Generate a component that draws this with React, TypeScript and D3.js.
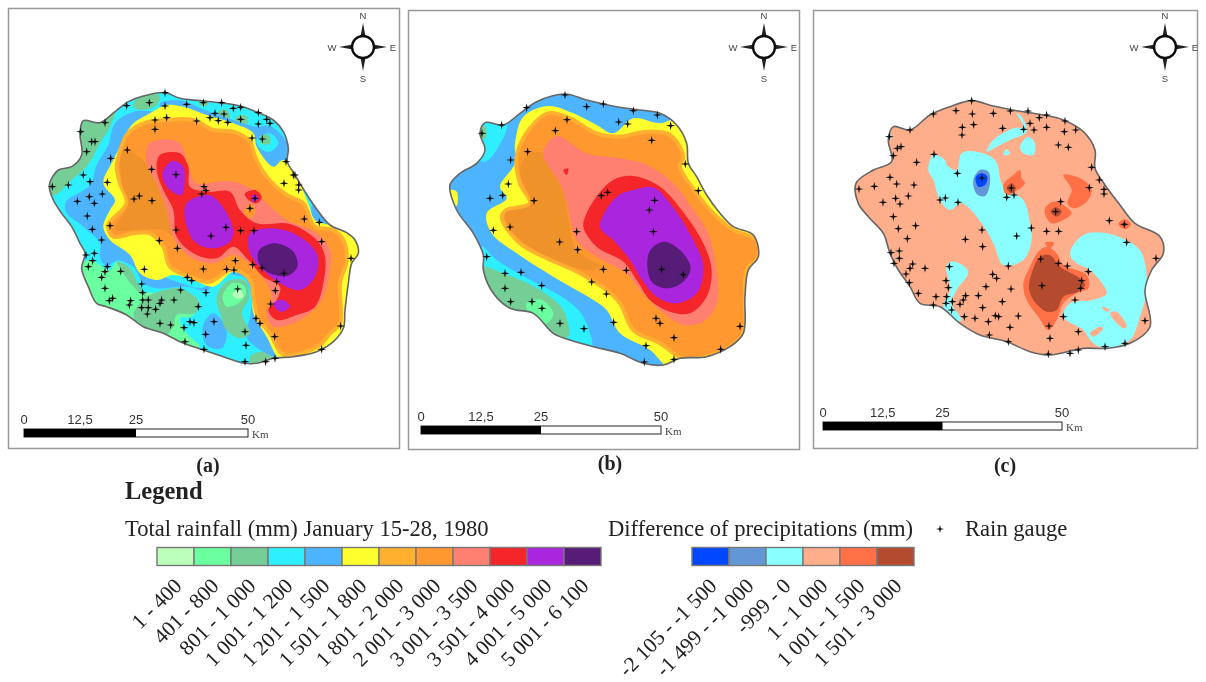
import React from 'react'
import * as d3 from 'd3'

type Pt = [number, number]

const rainLabels = ['1 - 400', '401 - 800', '801 - 1 000', '1 001 - 1 200', '1 201 - 1 500', '1 501 - 1 800', '1 801 - 2 000', '2 001 - 3 000', '3 001 - 3 500', '3 501 - 4 000', '4 001 - 5 000', '5 001 - 6 100']
const rainColors = ['#BBFFBB', '#6BFF9F', '#75CE95', '#2EEFFF', '#4DB4FF', '#FFFF2E', '#FFB02E', '#FF982E', '#FF7F70', '#F5252B', '#A926DE', '#561B78']
const diffLabels = ['-2 105 - -1 500', '-1 499 - -1 000', '-999 - 0', '1 - 1 000', '1 001 - 1 500', '1 501 - 3 000']
const diffColors = ['#0046FF', '#6496D7', '#8BFFFF', '#FFAE8B', '#FF7047', '#B54B2E']
const scaleTicks = [0, 12.5, 25, 50]

// island outlines, traced in map units
const outlineA: Pt[] = [[495,68],[540,85],[600,92],[660,98],[720,108],[775,128],[820,150],[850,185],[865,235],[862,275],[885,315],[915,365],[945,410],[990,465],[1040,488],[1065,510],[1075,550],[1055,580],[1045,640],[1035,720],[1030,775],[1000,815],[950,845],[880,860],[820,865],[770,880],[735,880],[670,860],[610,840],[540,815],[490,790],[430,770],[380,735],[320,710],[290,700],[265,650],[245,595],[255,550],[240,520],[215,470],[185,430],[160,390],[148,345],[175,300],[215,290],[245,255],[240,190],[250,152],[300,158],[345,125],[385,95],[430,78]]
const outlineB: Pt[] = [[435,72],[500,90],[590,110],[660,120],[720,130],[770,165],[800,220],[805,280],[830,320],[860,375],[900,430],[940,470],[1000,495],[1015,560],[985,600],[975,680],[970,790],[930,830],[860,860],[780,865],[730,885],[670,880],[600,850],[520,830],[450,810],[400,790],[340,730],[270,715],[220,670],[190,600],[190,555],[160,490],[110,420],[90,345],[120,310],[170,280],[195,240],[180,190],[195,158],[250,165],[300,130],[350,95]]
const outlineC: Pt[] = [[425,32],[490,48],[560,62],[640,75],[700,90],[760,125],[795,180],[795,235],[825,285],[870,345],[915,400],[990,440],[1000,490],[965,540],[945,600],[960,710],[900,760],[830,775],[760,775],[660,795],[600,785],[530,755],[450,735],[390,700],[330,650],[270,640],[240,590],[205,540],[180,490],[160,430],[115,380],[85,340],[78,280],[130,240],[185,215],[175,150],[190,110],[240,120],[300,75],[360,50]]

// rainfall classes of map (a), painted in this order
const aZones: [number, Pt[]][] = [
  [2, [[240,150],[300,155],[345,125],[330,170],[300,220],[260,290],[215,330],[165,375],[140,370],[135,335],[175,295],[215,285],[245,255],[235,190]]],
  [2, [[400,100],[440,70],[480,78],[470,105],[430,120],[400,112]]],
  [2, [[600,90],[625,92],[620,108],[600,105]]],
  [2, [[655,125],[680,120],[690,145],[665,150]]],
  [2, [[705,145],[735,135],[745,155],[720,168]]],
  [1, [[235,590],[270,570],[330,600],[350,575],[390,600],[420,660],[480,670],[540,680],[590,710],[575,740],[540,745],[560,790],[600,830],[540,825],[480,800],[430,780],[330,720],[280,710]]],
  [2, [[440,680],[540,655],[600,700],[585,730],[530,735],[520,770],[490,800],[430,780],[400,735],[420,700]]],
  [2, [[350,575],[385,590],[420,650],[440,680],[410,660],[370,610]]],
  [2, [[750,860],[800,845],[830,870],[760,890]]],
  [4, [[195,410],[200,392],[270,345],[290,285],[325,225],[345,160],[400,125],[470,122],[500,108],[540,118],[510,180],[400,300],[400,500],[480,610],[560,645],[600,655],[640,640],[620,662],[560,650],[470,655],[430,640],[400,590],[350,572],[320,590],[300,560],[300,520],[250,470],[200,430]]],
  [4, [[480,100],[545,92],[610,118],[700,150],[770,170],[810,168],[865,225],[865,290],[875,355],[830,370],[800,300],[765,245],[700,185],[600,150],[500,130]]],
  [3, [[770,210],[810,190],[835,220],[810,245],[780,235]]],
  [2, [[780,200],[805,195],[810,220],[785,222]]],
  [4, [[740,610],[770,640],[770,725],[835,860],[790,845],[740,800],[750,740],[755,680],[735,625],[690,612]]],
  [4, [[608,770],[640,730],[680,780],[665,835],[620,825]]],
  [4, [[940,400],[995,465],[950,475],[935,440]]],
  [4, [[460,510],[480,498],[490,512],[475,525]]],
  [2, [[650,680],[680,635],[735,632],[748,680],[725,730],[750,790],[720,805],[680,780],[660,730]]],
  [1, [[668,680],[695,640],[730,645],[738,670],[715,700],[680,710]]],
  [0, [[698,672],[722,660],[730,680],[708,686]]],
]
const aYellow: Pt[] = [[395,165],[450,130],[500,105],[550,110],[620,135],[700,160],[760,190],[770,230],[820,290],[850,270],[890,320],[925,400],[945,450],[990,465],[1040,480],[1090,520],[1090,560],[1060,600],[1050,720],[1040,790],[1000,830],[950,870],[880,880],[840,870],[800,800],[760,730],[755,660],[740,625],[700,605],[640,650],[580,630],[520,615],[470,630],[420,610],[390,555],[330,510],[310,470],[330,420],[345,390],[310,340],[340,270],[370,210]]
const aOrange: Pt[] = [[380,195],[430,160],[500,150],[580,150],[640,180],[700,185],[750,215],[765,260],[800,320],[860,375],[910,400],[945,470],[1000,480],[1030,510],[1040,570],[1020,640],[1020,760],[990,790],[960,825],[880,855],[845,850],[810,790],[775,745],[760,680],[755,640],[730,610],[690,600],[630,635],[570,620],[510,590],[490,530],[450,490],[400,490],[340,500],[325,465],[380,400],[360,340],[350,290],[365,230]]
const aOrangeDark: Pt[] = [[345,480],[385,400],[365,340],[370,240],[440,280],[470,340],[500,420],[520,500],[490,480],[400,480]]
const aSalmon: Pt[] = [[445,225],[490,208],[540,220],[560,270],[590,340],[650,335],[700,335],[760,360],[800,400],[860,450],[950,490],[990,540],[990,600],[970,680],[940,720],[880,760],[820,770],[800,730],[815,680],[800,640],[760,590],[700,555],[640,580],[570,560],[520,500],[500,420],[470,340],[440,280]]
const aRedMain: Pt[] = [[480,255],[540,250],[565,290],[570,350],[620,365],[690,365],[720,420],[770,460],[870,462],[950,510],[975,560],[970,640],[945,710],[890,735],[830,750],[805,720],[830,690],[840,650],[790,620],[745,570],[700,530],[650,565],[590,555],[530,500],[520,420],[490,360],[470,300]]
const aRedSpot: Pt[] = [[735,370],[765,360],[785,380],[770,400],[740,385]]
const aOrangeSpot: Pt[] = [[738,412],[752,402],[768,420],[750,445],[730,425]]
const aPurple: Pt[][] = [
  [[490,300],[520,272],[550,290],[555,330],[545,375],[510,360],[490,330]],
  [[560,400],[625,375],[660,400],[700,480],[690,515],[640,535],[590,520],[560,470]],
  [[750,490],[810,475],[880,490],[950,550],[945,620],[900,660],[840,640],[790,600],[750,550]],
  [[820,700],[850,690],[870,710],[840,725]],
  [[755,378],[768,375],[775,388],[760,395]],
]
const aDark: Pt[] = [[778,540],[825,520],[880,545],[892,590],[860,618],[800,605],[775,575]]
const aGauges: Pt[] = [[495,68],[380,107],[448,98],[495,108],[560,103],[610,98],[665,98],[700,115],[722,112],[775,128],[500,143],[465,150],[465,178],[590,153],[630,143],[645,130],[655,152],[672,132],[683,157],[722,148],[775,162],[800,148],[810,160],[242,185],[315,158],[275,215],[285,215],[260,245],[382,240],[332,265],[756,204],[787,207],[858,275],[880,315],[885,315],[455,298],[528,314],[250,315],[322,337],[205,345],[157,350],[270,335],[852,340],[896,345],[896,360],[612,350],[618,362],[605,372],[765,385],[268,380],[307,372],[232,394],[283,400],[402,387],[418,378],[456,392],[750,415],[262,438],[913,447],[958,457],[330,467],[277,478],[528,480],[678,472],[722,482],[762,482],[633,498],[305,510],[478,512],[965,515],[532,535],[258,555],[283,550],[278,572],[265,590],[322,590],[315,605],[362,604],[305,622],[433,598],[610,597],[680,598],[702,600],[706,572],[758,584],[786,594],[852,610],[1053,565],[425,642],[562,622],[575,632],[830,635],[826,662],[713,657],[315,655],[428,668],[542,660],[618,668],[338,685],[328,692],[392,692],[388,705],[428,690],[445,690],[485,690],[522,690],[425,713],[445,713],[467,718],[480,700],[442,732],[595,710],[812,702],[768,745],[780,760],[480,760],[512,765],[552,773],[570,755],[582,758],[642,755],[735,785],[617,793],[824,800],[555,815],[738,826],[612,838],[1022,768],[965,838],[735,875],[797,875],[825,865]]

// map (b)
const bZones: [number, Pt[]][] = [
  [3, [[175,150],[260,160],[230,240],[195,275],[165,260],[175,200]]],
  [3, [[185,530],[230,570],[350,640],[440,690],[490,740],[515,835],[450,815],[400,800],[340,740],[270,725],[215,675],[180,600]]],
  [2, [[178,590],[250,610],[360,660],[430,720],[445,800],[400,800],[340,740],[270,725],[215,680]]],
  [1, [[320,700],[365,690],[400,730],[380,760],[330,735]]],
  [2, [[176,170],[196,168],[196,205],[176,205]]],
  [5, [[85,360],[110,365],[108,410],[85,400]]],
]
const bYellow: Pt[] = [[285,220],[310,140],[385,108],[460,130],[530,165],[580,190],[640,145],[720,160],[770,150],[830,300],[880,390],[1020,510],[1020,600],[1000,800],[800,880],[750,895],[690,840],[600,790],[560,720],[520,690],[400,620],[290,550],[215,490],[200,430],[260,385],[240,350],[285,280]]
const bOrange: Pt[] = [[330,175],[385,130],[450,145],[530,190],[600,200],[680,185],[750,195],[790,260],[780,290],[830,370],[880,430],[940,480],[1010,510],[1015,560],[980,600],[975,700],[970,790],[930,830],[860,860],[790,865],[720,820],[640,780],[600,700],[560,660],[480,610],[300,520],[245,440],[260,420],[330,400],[300,340],[290,260]]
const bOrangeDark: Pt[] = [[255,430],[330,405],[300,300],[330,250],[370,250],[430,370],[470,540],[540,590],[500,600],[300,510]]
const bSalmon: Pt[] = [[370,250],[410,198],[500,250],[600,265],[680,285],[760,340],[820,420],[860,480],[885,570],[890,700],[850,755],[790,765],[720,720],[660,660],[620,610],[530,560],[470,510],[440,400],[420,340]]
const bRedMain: Pt[] = [[500,430],[545,360],[590,325],[640,318],[720,350],[800,440],[850,520],[875,600],[860,680],[810,730],[750,725],[690,690],[650,630],[610,575],[530,530],[490,470]]
const bRedSpot: Pt[] = [[430,300],[445,295],[440,315]]
const bPurple: Pt[] = [[540,470],[590,380],[640,360],[700,352],[750,400],[820,510],[850,590],[830,670],[770,700],[710,680],[660,620],[630,570],[580,510]]
const bDark: Pt[] = [[682,575],[695,535],[735,515],[785,545],[812,595],[790,635],[740,655],[695,635]]
const bGauges: Pt[] = [[435,75],[320,113],[500,110],[550,102],[640,122],[712,135],[752,167],[441,149],[406,182],[596,156],[623,162],[186,190],[245,165],[695,211],[323,245],[272,270],[796,282],[265,342],[835,362],[210,385],[248,376],[342,392],[544,377],[563,367],[704,391],[688,420],[270,471],[220,481],[470,485],[700,485],[419,516],[473,539],[200,560],[255,610],[303,607],[550,598],[619,601],[725,598],[790,614],[515,636],[365,647],[255,655],[559,672],[272,695],[336,695],[366,715],[708,745],[720,760],[581,757],[420,760],[492,776],[762,803],[960,769],[678,827],[902,838],[762,868],[673,876]]

// difference classes of map (c)
const cZones: [number, Pt[]][] = [
  [2, [[310,195],[345,210],[350,225],[380,240],[395,190],[440,185],[495,210],[520,290],[580,330],[600,400],[605,450],[580,510],[520,525],[490,460],[455,400],[395,340],[360,360],[330,330],[310,270],[295,240]]],
  [2, [[470,185],[490,150],[550,115],[580,110],[560,70],[575,80],[590,125],[540,150],[500,170]]],
  [2, [[570,170],[595,140],[615,160],[610,195],[580,190]]],
  [2, [[520,190],[530,178],[540,190],[525,197]]],
  [2, [[720,490],[760,435],[830,430],[920,470],[940,500],[950,600],[930,680],[900,750],[830,775],[790,760],[760,720],[700,680],[720,640],[790,630],[830,610],[780,540],[740,520]]],
  [3, [[840,670],[860,665],[890,710],[880,715]]],
  [3, [[780,730],[810,710],[820,715],[790,740]]],
  [3, [[815,650],[840,660],[830,665]]],
  [2, [[350,525],[375,515],[415,545],[380,600],[365,640],[395,690],[380,695],[340,650],[360,600]]],
  [2, [[170,140],[185,135],[180,150]]],
  [1, [[430,270],[450,240],[475,245],[480,280],[465,318],[440,312]]],
  [0, [[437,262],[455,250],[472,260],[465,285],[445,290]]],
  [4, [[520,285],[550,255],[570,240],[575,265],[585,280],[555,305],[530,315]]],
  [5, [[530,295],[545,280],[557,295],[545,310]]],
  [4, [[645,355],[670,335],[700,345],[725,370],[700,390],[665,400],[650,385]]],
  [4, [[700,255],[720,255],[760,270],[785,300],[770,335],[730,355],[712,340],[725,300]]],
  [5, [[662,365],[677,352],[695,365],[680,380]]],
  [4, [[865,403],[883,388],[903,403],[885,418]]],
  [5, [[875,403],[883,397],[892,403],[883,410]]],
  [4, [[645,458],[672,458],[660,475]]],
  [4, [[580,580],[600,530],[625,485],[650,470],[680,490],[700,525],[770,555],[775,595],[740,610],[700,640],[680,690],[655,720],[625,680],[590,630]]],
  [5, [[597,595],[605,550],[630,500],[660,495],[690,530],[750,565],[765,585],[745,605],[700,620],[680,660],[650,665],[610,630]]],
]
const cGauges: Pt[] = [[425,32],[378,62],[427,72],[490,70],[541,63],[594,63],[650,75],[628,83],[600,100],[705,93],[397,112],[431,104],[396,135],[518,115],[581,118],[612,120],[650,112],[703,125],[737,120],[310,72],[240,120],[178,140],[202,175],[213,170],[190,197],[312,193],[260,217],[685,165],[715,172],[785,232],[382,250],[456,264],[180,262],[200,282],[252,285],[808,270],[87,297],[133,289],[544,294],[778,293],[822,298],[822,312],[235,318],[197,325],[530,322],[552,315],[330,330],[346,324],[159,337],[210,342],[384,337],[692,335],[677,365],[190,380],[838,392],[883,403],[205,416],[257,407],[604,414],[456,420],[650,424],[686,424],[232,446],[406,448],[560,438],[890,457],[458,470],[183,488],[208,483],[208,505],[192,520],[978,505],[632,507],[685,520],[712,528],[535,528],[248,522],[285,535],[358,530],[240,535],[228,552],[488,553],[500,565],[775,545],[348,572],[238,578],[755,572],[752,595],[636,587],[468,590],[355,593],[543,597],[407,617],[265,610],[318,620],[350,620],[735,630],[400,630],[445,617],[517,635],[367,635],[310,645],[348,640],[390,643],[458,653],[365,660],[403,680],[435,685],[496,677],[506,680],[565,678],[700,680],[475,695],[657,708],[540,712],[945,692],[745,725],[478,735],[660,745],[535,755],[885,760],[825,770],[745,780],[720,790],[655,792]]

const sans = '"Liberation Sans", Arial, sans-serif'
const serif = '"Liberation Serif", "Times New Roman", serif'
const smooth = d3.line().curve(d3.curveCatmullRomClosed.alpha(0.5))

function Gauge({ x, y, r = 4.5 }: { x: number; y: number; r?: number }) {
  const w = 0.85
  return <path d={`M${x - r} ${y}L${x - w} ${y - w}L${x} ${y - r}L${x + w} ${y - w}L${x + r} ${y}L${x + w} ${y + w}L${x} ${y + r}L${x - w} ${y + w}Z`} fill="#111" />
}

function Compass({ cx, cy }: { cx: number; cy: number }) {
  const arms = [0, 90, 180, 270]
  const letters: [string, number, number][] = [['N', 0, -31], ['E', 30, 1], ['S', 0, 32], ['W', -31, 1]]
  return (
    <g>
      {arms.map(a => (
        <path key={a} transform={`translate(${cx},${cy}) rotate(${a})`} d="M0 -24L2.6 -10L-2.6 -10Z" fill="#222" />
      ))}
      <circle cx={cx} cy={cy} r={11} fill="#fff" stroke="#111" strokeWidth={2.4} />
      {letters.map(([t, dx, dy]) => (
        <text key={t} x={cx + dx} y={cy + dy} dy="0.35em" textAnchor="middle" fontFamily={sans} fontSize={9.5} fill="#444">{t}</text>
      ))}
    </g>
  )
}

function ScaleBar({ x0, x1, y }: { x0: number; x1: number; y: number }) {
  const km = d3.scaleLinear().domain([0, 50]).range([x0, x1])
  return (
    <g>
      <rect x={km(0)} y={y} width={km(50) - km(0)} height={8} fill="#fff" stroke="#222" strokeWidth={1} />
      <rect x={km(0)} y={y} width={km(25) - km(0)} height={8} fill="#000" />
      {scaleTicks.map(t => (
        <text key={t} x={km(t)} y={y - 5} textAnchor="middle" fontFamily={sans} fontSize={13} fill="#333">{String(t).replace('.', ',')}</text>
      ))}
      <text x={km(50) + 4} y={y + 9} fontFamily={serif} fontSize={11} fill="#444">Km</text>
    </g>
  )
}

function Island({ id, outline, layers, gauges, xr, yr, dx, dy }: any) {
  const sx = d3.scaleLinear().domain(dx).range(xr)
  const sy = d3.scaleLinear().domain(dy).range(yr)
  const toPath = (p: Pt[]) => smooth(p.map(([a, b]) => [sx(a), sy(b)] as Pt)) as string
  const outlinePath = toPath(outline)
  return (
    <g>
      <defs>
        <clipPath id={id}><path d={outlinePath} /></clipPath>
      </defs>
      <g clipPath={`url(#${id})`}>
        {layers.map((l: any, i: number) => (
          <path key={i} d={toPath(l.pts)} fill={l.fill} stroke={l.stroke || 'none'} strokeWidth={l.stroke ? 4 : 0} />
        ))}
      </g>
      <path d={outlinePath} fill="none" stroke="#666" strokeWidth={1.6} />
      {gauges.map(([a, b]: Pt, i: number) => <Gauge key={i} x={sx(a)} y={sy(b)} />)}
    </g>
  )
}

function Legend({ x0, cell, labels, colors }: { x0: number; cell: number; labels: string[]; colors: string[] }) {
  const band = d3.scaleBand<number>().domain(d3.range(colors.length)).range([x0, x0 + cell * colors.length])
  return (
    <g>
      {colors.map((c, i) => (
        <rect key={c} x={band(i)} y={547.5} width={band.bandwidth()} height={18} fill={c} stroke="#777" strokeWidth={1.4} />
      ))}
      {labels.map((t, i) => (
        <text key={t} transform={`translate(${(band(i) as number) + band.bandwidth() / 2 - 3},${576.5}) rotate(-45)`} textAnchor="end" fontFamily={serif} fontSize={21.4} dy="0.7em" fill="#222">{t}</text>
      ))}
    </g>
  )
}

export default function App() {
  const rain = (pts: Pt[], k: number, stroke?: string) => ({ pts, fill: rainColors[k], stroke })
  const layersA = [
    { pts: outlineA, fill: rainColors[3] },
    ...aZones.map(([k, pts]) => rain(pts, k)),
    rain(aYellow, 5),
    rain(aOrange, 7, rainColors[6]),
    { pts: aOrangeDark, fill: '#F0922C' },
    rain(aSalmon, 8),
    rain(aOrangeSpot, 7),
    rain(aRedMain, 9),
    rain(aRedSpot, 9),
    ...aPurple.map(p => rain(p, 10)),
    rain(aDark, 11),
  ]
  const layersB = [
    { pts: outlineB, fill: rainColors[4] },
    ...bZones.map(([k, pts]) => rain(pts, k)),
    rain(bYellow, 5),
    rain(bOrange, 7, rainColors[6]),
    { pts: bOrangeDark, fill: '#F0922C' },
    rain(bSalmon, 8),
    rain(bRedMain, 9),
    rain(bRedSpot, 9),
    rain(bPurple, 10),
    rain(bDark, 11),
  ]
  const layersC = [
    { pts: outlineC, fill: diffColors[3] },
    ...cZones.map(([k, pts]) => ({ pts, fill: diffColors[k] })),
  ]

  return (
    <svg width={1206} height={682} style={{ position: 'absolute', left: 0, top: 0, display: 'block' }}>
      <defs>
        <filter id="soft" x="0" y="0" width="1206" height="682" filterUnits="userSpaceOnUse"><feGaussianBlur stdDeviation={0.7} /></filter>
      </defs>
      <rect width={1206} height={682} fill="#fff" />
      <g filter="url(#soft)">
        <rect x={8.5} y={8.5} width={391} height={440} fill="#fff" stroke="#999" strokeWidth={1.5} />
        <rect x={408.5} y={10.5} width={391} height={439} fill="#fff" stroke="#999" strokeWidth={1.5} />
        <rect x={813.5} y={10.5} width={384} height={438} fill="#fff" stroke="#999" strokeWidth={1.5} />

        <Island id="ca" outline={outlineA} layers={layersA} gauges={aGauges} dx={[0, 1200]} dy={[0, 930]} xr={[0, 400]} yr={[70, 380]} />
        <Island id="cb" outline={outlineB} layers={layersB} gauges={bGauges} dx={[0, 1020]} dy={[0, 930]} xr={[420, 760]} yr={[70, 380]} />
        <Island id="cc" outline={outlineC} layers={layersC} gauges={cGauges} dx={[0, 1050]} dy={[0, 840]} xr={[830, 1180]} yr={[90, 370]} />

        <Compass cx={363} cy={47} />
        <Compass cx={764} cy={47} />
        <Compass cx={1165} cy={47} />

        <ScaleBar x0={24} x1={248} y={429} />
        <ScaleBar x0={421} x1={661} y={426} />
        <ScaleBar x0={823} x1={1062} y={422} />

        <text x={208} y={472} textAnchor="middle" fontFamily={serif} fontWeight="bold" fontSize={20} fill="#222">(a)</text>
        <text x={610} y={470} textAnchor="middle" fontFamily={serif} fontWeight="bold" fontSize={20} fill="#222">(b)</text>
        <text x={1005} y={472} textAnchor="middle" fontFamily={serif} fontWeight="bold" fontSize={20} fill="#222">(c)</text>

        <text x={125} y={499} fontFamily={serif} fontWeight="bold" fontSize={24.5} fill="#222">Legend</text>
        <text x={125} y={536} fontFamily={serif} fontSize={22.6} fill="#222">Total rainfall (mm) January 15-28, 1980</text>
        <text x={608} y={536} fontFamily={serif} fontSize={22.6} fill="#222">Difference of precipitations (mm)</text>
        <Gauge x={940} y={529} r={4} />
        <text x={965} y={536} fontFamily={serif} fontSize={22.6} fill="#222">Rain gauge</text>

        <Legend x0={157} cell={37} labels={rainLabels} colors={rainColors} />
        <Legend x0={692} cell={37} labels={diffLabels} colors={diffColors} />
      </g>
    </svg>
  )
}
